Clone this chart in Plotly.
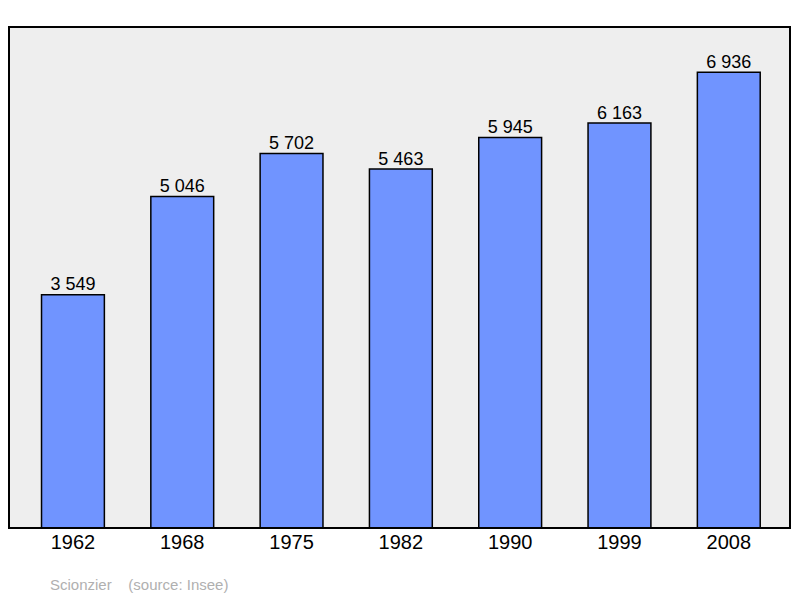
import plotly.graph_objects as go

years = ["1962", "1968", "1975", "1982", "1990", "1999", "2008"]
population = [3549, 5046, 5702, 5463, 5945, 6163, 6936]
labels = ["3 549", "5 046", "5 702", "5 463", "5 945", "6 163", "6 936"]

xs = list(range(len(years)))
fig = go.Figure()
fig.add_trace(go.Bar(
    x=xs, y=population,
    marker=dict(color="#7094ff", line=dict(color="black", width=1.5)),
    width=0.575,
))
fig.add_trace(go.Scatter(
    x=xs, y=population, text=labels, mode="text", textposition="top center",
    textfont=dict(size=18, color="black", family="Liberation Sans"),
    cliponaxis=False, hoverinfo="skip",
))
fig.update_layout(
    width=784, height=590, margin=dict(l=1, r=2, t=19, b=70),
    plot_bgcolor="#eeeeee", paper_bgcolor="white", showlegend=False,
    xaxis=dict(range=[-0.585, 6.56], tickvals=xs, ticktext=years,
               showgrid=False, zeroline=False, ticks="", ticklen=0,
               tickfont=dict(size=20, color="black", family="Liberation Sans")),
    yaxis=dict(range=[0, 7626], visible=False, showgrid=False),
    shapes=[dict(type="rect", xref="paper", yref="paper", x0=0, x1=1, y0=0, y1=1,
                 line=dict(color="black", width=2))],
    annotations=[dict(text="Scionzier    (source: Insee)", xref="paper", yref="paper",
                      x=0.05, y=-0.112, xanchor="left", yanchor="middle", showarrow=False,
                      font=dict(size=15, color="#b0b0b0", family="Liberation Sans"))],
)
fig.write_html("out.html")
